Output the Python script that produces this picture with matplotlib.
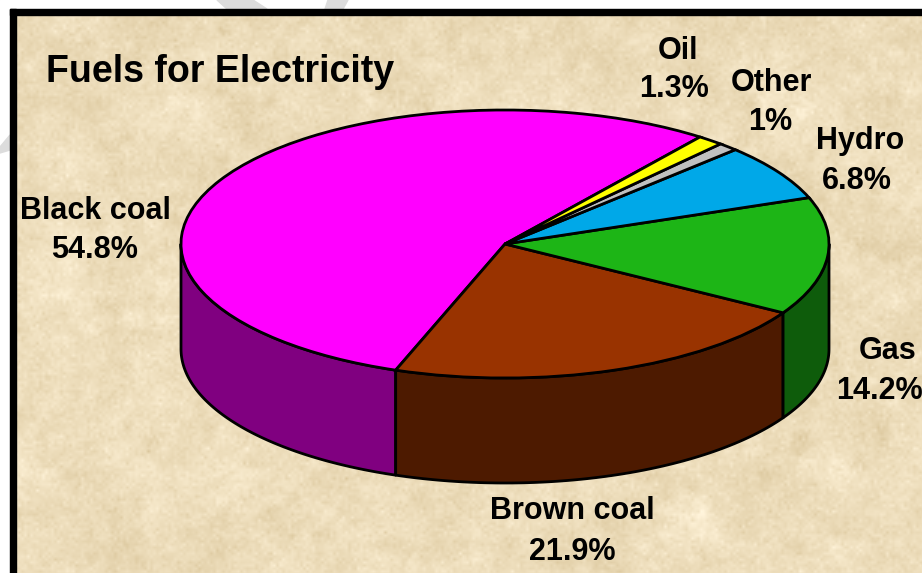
# libraries
import numpy as np
import matplotlib
matplotlib.use('Agg')
import matplotlib.pyplot as plt
from matplotlib.patches import Polygon, Rectangle

# data, the pie runs counter clockwise from the end of Oil
names = ['Black coal', 'Brown coal', 'Gas', 'Hydro', 'Other', 'Oil']
shares = [54.8, 21.9, 14.2, 6.8, 1.0, 1.3]
share_labels = ['54.8%', '21.9%', '14.2%', '6.8%', '1%', '1.3%']
top_colors = ['#FF00FF', '#993300', '#1DB516', '#00A8E8', '#C0C0C0', '#FFFF00']
side_colors = ['#800080', '#4D1A00', '#0E5C0B', '#005A80', '#606060', '#808000']

W, H = 922, 573
plt.rcParams['font.family'] = ['Liberation Sans']
plt.rcParams['font.weight'] = 'bold'

fig = plt.figure(figsize=(W / 100, H / 100), dpi=100, facecolor='white')

# background axes in pixels
bg = fig.add_axes([0, 0, 1, 1])
bg.set_xlim(0, W)
bg.set_ylim(H, 0)
bg.axis('off')

# sand texture, only decoration
rng = np.random.default_rng(3)
def blotches(cell):
    g = rng.normal(size=(H // cell + 2, W // cell + 2))
    g = np.repeat(np.repeat(g, cell, axis=0), cell, axis=1)[:H, :W]
    k = np.ones(cell) / cell
    g = np.apply_along_axis(lambda r: np.convolve(r, k, mode='same'), 1, g)
    g = np.apply_along_axis(lambda c: np.convolve(c, k, mode='same'), 0, g)
    return g / g.std()
shade = 2.5 * blotches(3) + 2.5 * blotches(12) + 2.5 * blotches(45)
base = np.array([237, 221, 187], dtype=float)
tint = np.array([0.9, 1.1, 1.5])
tex = np.clip(base + shade[..., None] * tint, 0, 255).astype(np.uint8)
bg.imshow(tex, extent=(0, W, H, 0), aspect='auto', interpolation='nearest', zorder=1)
bg.set_xlim(0, W)
bg.set_ylim(H, 0)

# white margin and the black frame
bg.add_patch(Rectangle((0, 0), W, 9, color='white', zorder=2))
bg.add_patch(Rectangle((0, 0), 10, H, color='white', zorder=2))
bg.add_patch(Polygon([(217, 0), (253, 0), (267, 9), (227, 9)], color='#DCDCDC', zorder=3))
bg.add_patch(Polygon([(328, 0), (348, 0), (343, 9), (325, 9)], color='#DCDCDC', zorder=3))
bg.add_patch(Polygon([(0, 147), (10, 135), (10, 150), (0, 153)], color='#DCDCDC', zorder=3))
bg.add_patch(Rectangle((10, 9), W, 6, color='black', zorder=4))
bg.add_patch(Rectangle((10, 9), 6, H, color='black', zorder=4))

# the text, positions are centre x and baseline y
bg.text(46, 82, 'Fuels for Electricity', fontsize=27, va='baseline', ha='left', zorder=5)
label_pos = {'Black coal': (95, 219, 95, 258), 'Brown coal': (572, 519, 572, 560),
             'Gas': (888, 359, 879, 399), 'Hydro': (860, 149, 857, 189),
             'Other': (771, 91, 770, 130), 'Oil': (678, 59, 674, 97)}
for n, s in zip(names, share_labels):
    x1, y1, x2, y2 = label_pos[n]
    bg.text(x1, y1, n, fontsize=22, ha='center', va='baseline', zorder=5)
    bg.text(x2, y2, s, fontsize=22, ha='center', va='baseline', zorder=5)

# pie axes, one data unit is the radius
cx, cy, rx, ry, depth = 505, 244, 324, 134, 105
ax = fig.add_axes([0, 0, 1, 1])
ax.patch.set_visible(False)
start = 53
drop = depth / ry

# walls, only the front half can be seen
edges = start + np.cumsum([0] + shares) * 3.6
for i in range(len(shares)):
    for shift in (0, 360):
        a = max(edges[i] - shift, 180)
        b = min(edges[i + 1] - shift, 360)
        if b <= a:
            continue
        t = np.radians(np.linspace(a, b, 80))
        top = np.column_stack([np.cos(t), np.sin(t)])
        low = top[::-1] - [0, drop]
        ax.add_patch(Polygon(np.vstack([top, low]), closed=True, facecolor=side_colors[i],
                             edgecolor='black', linewidth=2, joinstyle='round'))

# top of the cake
ax.pie(shares, colors=top_colors, startangle=start, counterclock=True, radius=1,
       wedgeprops={'edgecolor': 'black', 'linewidth': 2})
ax.set_xlim(-cx / rx, (W - cx) / rx)
ax.set_ylim((cy - H) / ry, cy / ry)
ax.set_aspect('auto')
ax.axis('off')

fig.savefig('out.png', dpi=100, facecolor='white')
